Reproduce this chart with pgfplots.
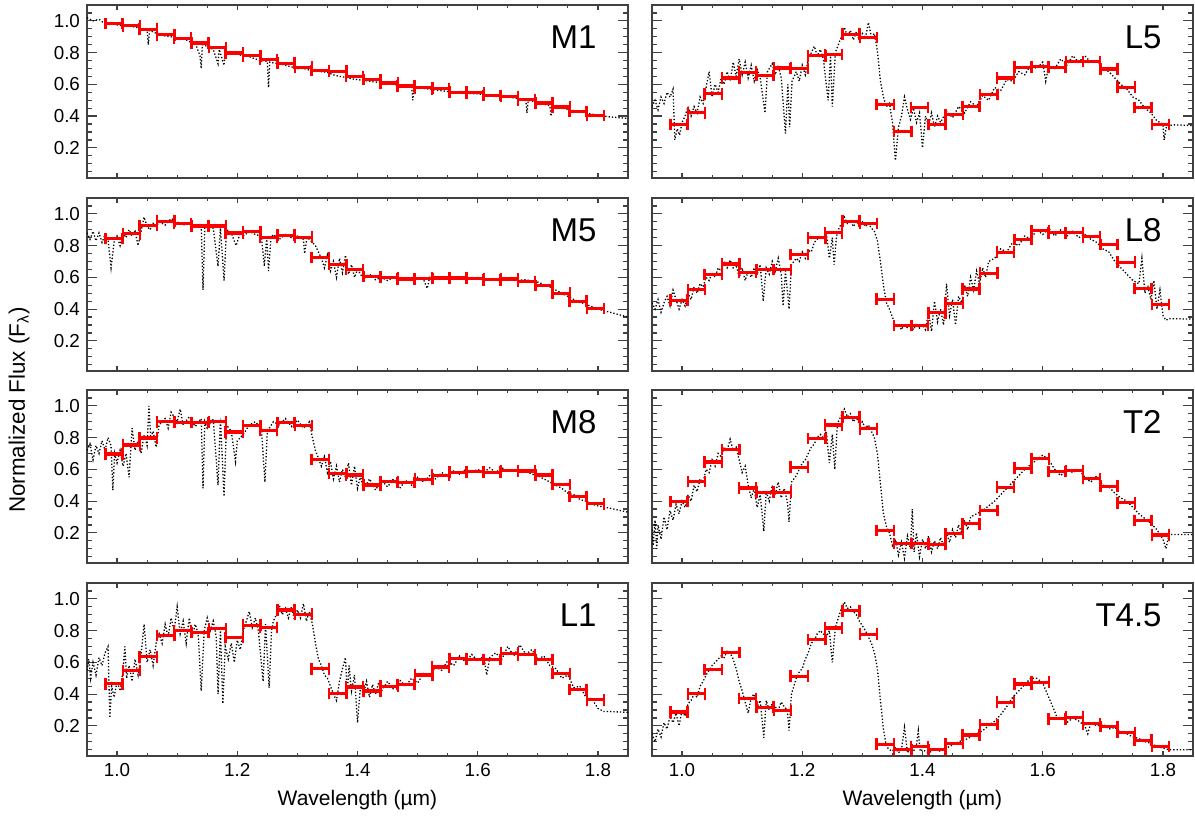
\documentclass[border=0pt]{standalone}
\usepackage{fontspec}
\setmainfont{Liberation Sans}
\usepackage{pgfplots}
\usepackage{pgfplotstable}
\pgfplotsset{compat=1.18}

\pgfplotstableread{
x      M1    M5    M8    L1    L5    L8    T2    T45
0.995  0.983 0.845 0.697 0.465 0.348 0.456 0.397 0.287
1.024  0.969 0.874 0.753 0.548 0.421 0.523 0.523 0.402
1.052  0.948 0.927 0.797 0.635 0.540 0.619 0.646 0.554
1.081  0.912 0.954 0.900 0.768 0.640 0.684 0.724 0.663
1.109  0.891 0.940 0.895 0.800 0.676 0.632 0.483 0.372
1.138  0.860 0.923 0.895 0.787 0.655 0.649 0.456 0.318
1.167  0.833 0.923 0.900 0.813 0.703 0.649 0.456 0.297
1.195  0.797 0.880 0.835 0.757 0.700 0.743 0.613 0.513
1.224  0.780 0.890 0.877 0.834 0.780 0.849 0.795 0.743
1.252  0.756 0.853 0.845 0.820 0.787 0.881 0.879 0.816
1.281  0.733 0.866 0.895 0.930 0.916 0.954 0.929 0.925
1.310  0.708 0.853 0.877 0.903 0.896 0.939 0.856 0.778
1.338  0.687 0.724 0.661 0.560 0.472 0.462 0.215 0.084
1.367  0.683 0.682 0.573 0.403 0.304 0.297 0.134 0.052
1.395  0.649 0.650 0.565 0.445 0.455 0.297 0.134 0.069
1.424  0.630 0.606 0.502 0.420 0.348 0.377 0.128 0.052
1.453  0.609 0.598 0.521 0.450 0.411 0.437 0.195 0.090
1.481  0.590 0.590 0.517 0.460 0.461 0.527 0.257 0.142
1.510  0.578 0.594 0.538 0.520 0.536 0.626 0.341 0.209
1.538  0.572 0.596 0.563 0.571 0.640 0.759 0.487 0.349
1.567  0.551 0.596 0.582 0.623 0.708 0.839 0.607 0.464
1.596  0.547 0.594 0.586 0.619 0.712 0.893 0.667 0.475
1.624  0.530 0.585 0.582 0.619 0.708 0.881 0.586 0.245
1.653  0.524 0.590 0.594 0.658 0.743 0.883 0.592 0.255
1.681  0.503 0.575 0.590 0.648 0.743 0.856 0.542 0.213
1.710  0.482 0.548 0.565 0.617 0.697 0.808 0.494 0.197
1.739  0.457 0.500 0.504 0.530 0.582 0.695 0.389 0.157
1.767  0.430 0.450 0.430 0.430 0.453 0.529 0.278 0.109
1.796  0.405 0.405 0.383 0.364 0.348 0.429 0.186 0.069
}\bins

\pgfplotsset{
  panel/.style={
    scale only axis, width=270.5pt, height=86.5pt,
    xmin=0.95, xmax=1.85, ymin=0.01, ymax=1.1,
    xtick={1.0,1.2,1.4,1.6,1.8},
    xticklabels={1.0,1.2,1.4,1.6,1.8},
    minor xtick={0.95,1.0,1.05,1.1,1.15,1.2,1.25,1.3,1.35,1.4,1.45,1.5,1.55,1.6,1.65,1.7,1.75,1.8},
    ytick={0.2,0.4,0.6,0.8,1.0},
    yticklabels={0.2,0.4,0.6,0.8,1.0},
    minor ytick={0.05,0.1,0.15,0.2,0.25,0.3,0.35,0.4,0.45,0.5,0.55,0.6,0.65,0.7,0.75,0.8,0.85,0.9,0.95,1.0,1.05},
    tick align=inside,
    axis line style={black!75, line width=0.75pt},
    tick style={black!75, line width=0.6pt},
    major tick length=5pt, minor tick length=2.5pt,
    xtick style={/pgfplots/major tick length=2.5pt, /pgfplots/minor tick length=1.3pt},
    tick label style={font=\fontsize{9.4}{10}\selectfont},
    xlabel style={font=\fontsize{10.5}{12}\selectfont},
    clip=true,
  },
  spec/.style={black, densely dotted, line width=0.65pt},
  binned/.style={draw=none, no markers,
    error bars/.cd, x dir=both, x fixed=0.0143,
    error bar style={draw=red, line width=1.6pt},
    error mark options={draw=red, line width=1.3pt, mark size=2.9pt, rotate=90}},
}
\tikzset{lab/.style={anchor=east, font=\fontsize{16.5}{18}\selectfont}}

\begin{document}
\begin{tikzpicture}
\useasboundingbox (0,0) rectangle (597.5pt,410.5pt);

% ---------------- M1
\begin{axis}[panel, at={(43.5pt,321.5pt)}, anchor=south west, xticklabels={}]
\addplot[spec] coordinates {(0.95,1.02)(0.96,1.00)(0.97,1.01)(0.98,0.98)(0.99,0.99)(1.00,0.975)(1.01,0.97)(1.02,0.97)(1.03,0.96)(1.04,0.955)(1.05,0.945)(1.052,0.85)(1.054,0.94)(1.06,0.93)(1.07,0.915)(1.08,0.905)(1.09,0.90)(1.10,0.885)(1.11,0.89)(1.12,0.87)(1.13,0.86)(1.138,0.78)(1.14,0.70)(1.142,0.85)(1.15,0.84)(1.16,0.82)(1.168,0.73)(1.17,0.82)(1.178,0.72)(1.18,0.80)(1.19,0.795)(1.20,0.79)(1.21,0.78)(1.22,0.775)(1.23,0.76)(1.24,0.75)(1.25,0.745)(1.252,0.58)(1.254,0.74)(1.26,0.735)(1.27,0.73)(1.28,0.72)(1.29,0.71)(1.30,0.70)(1.31,0.70)(1.32,0.69)(1.33,0.685)(1.34,0.68)(1.35,0.675)(1.36,0.66)(1.37,0.65)(1.38,0.645)(1.39,0.635)(1.40,0.63)(1.41,0.625)(1.42,0.62)(1.43,0.615)(1.44,0.61)(1.45,0.605)(1.46,0.60)(1.47,0.595)(1.48,0.59)(1.49,0.585)(1.492,0.50)(1.494,0.58)(1.50,0.58)(1.52,0.57)(1.54,0.56)(1.56,0.55)(1.58,0.545)(1.60,0.54)(1.62,0.53)(1.64,0.525)(1.66,0.515)(1.68,0.50)(1.682,0.42)(1.684,0.50)(1.70,0.485)(1.72,0.465)(1.722,0.40)(1.724,0.46)(1.74,0.45)(1.76,0.435)(1.78,0.42)(1.80,0.405)(1.82,0.395)(1.85,0.385)};
\addplot[binned] table[x=x, y=M1] {\bins};
\node[lab] at (rel axis cs:0.955,0.815) {M1};
\end{axis}

% ---------------- M5
\begin{axis}[panel, at={(43.5pt,225pt)}, anchor=south west, xticklabels={}]
\addplot[spec] coordinates {(0.95,0.88)(0.955,0.84)(0.96,0.89)(0.965,0.83)(0.97,0.88)(0.975,0.82)(0.98,0.87)(0.985,0.84)(0.99,0.66)(0.995,0.82)(1.00,0.86)(1.005,0.80)(1.01,0.88)(1.015,0.85)(1.02,0.90)(1.025,0.86)(1.03,0.89)(1.035,0.80)(1.04,0.89)(1.045,0.98)(1.05,0.92)(1.055,0.90)(1.06,0.94)(1.065,0.92)(1.07,0.95)(1.08,0.93)(1.09,0.97)(1.10,0.95)(1.11,0.93)(1.12,0.94)(1.13,0.92)(1.14,0.93)(1.143,0.52)(1.146,0.92)(1.16,0.91)(1.168,0.67)(1.172,0.91)(1.178,0.58)(1.182,0.90)(1.19,0.88)(1.198,0.80)(1.205,0.88)(1.21,0.86)(1.22,0.89)(1.23,0.87)(1.24,0.86)(1.245,0.67)(1.249,0.85)(1.252,0.64)(1.256,0.85)(1.26,0.87)(1.27,0.84)(1.28,0.87)(1.29,0.85)(1.30,0.86)(1.31,0.84)(1.312,0.75)(1.316,0.85)(1.32,0.84)(1.33,0.80)(1.34,0.72)(1.345,0.66)(1.35,0.74)(1.355,0.64)(1.36,0.70)(1.365,0.60)(1.37,0.72)(1.375,0.63)(1.38,0.74)(1.385,0.62)(1.39,0.68)(1.395,0.60)(1.40,0.65)(1.41,0.59)(1.42,0.62)(1.43,0.585)(1.44,0.60)(1.45,0.58)(1.46,0.60)(1.47,0.585)(1.48,0.59)(1.50,0.60)(1.51,0.585)(1.516,0.53)(1.52,0.60)(1.54,0.595)(1.56,0.60)(1.58,0.59)(1.60,0.60)(1.62,0.585)(1.64,0.59)(1.66,0.58)(1.68,0.585)(1.70,0.57)(1.72,0.54)(1.74,0.50)(1.76,0.46)(1.78,0.43)(1.80,0.40)(1.82,0.38)(1.85,0.35)};
\addplot[binned] table[x=x, y=M5] {\bins};
\node[lab] at (rel axis cs:0.955,0.815) {M5};
\end{axis}

% ---------------- M8
\begin{axis}[panel, at={(43.5pt,129pt)}, anchor=south west, xticklabels={}]
\addplot[spec] coordinates {(0.95,0.72)(0.955,0.76)(0.96,0.66)(0.965,0.75)(0.97,0.70)(0.975,0.78)(0.98,0.72)(0.985,0.80)(0.99,0.75)(0.993,0.47)(0.996,0.70)(1.00,0.64)(1.005,0.72)(1.01,0.62)(1.015,0.70)(1.02,0.55)(1.025,0.86)(1.03,0.72)(1.035,0.78)(1.04,0.70)(1.045,0.82)(1.05,0.75)(1.053,1.00)(1.056,0.80)(1.06,0.84)(1.065,0.74)(1.07,0.88)(1.08,0.92)(1.085,0.86)(1.09,0.96)(1.10,0.90)(1.105,0.98)(1.11,0.88)(1.12,0.93)(1.13,0.87)(1.14,0.92)(1.143,0.48)(1.146,0.90)(1.15,0.86)(1.16,0.92)(1.168,0.50)(1.172,0.92)(1.178,0.43)(1.182,0.88)(1.19,0.84)(1.197,0.65)(1.20,0.78)(1.21,0.82)(1.22,0.88)(1.23,0.90)(1.24,0.86)(1.246,0.52)(1.25,0.84)(1.26,0.90)(1.27,0.88)(1.28,0.92)(1.29,0.87)(1.30,0.91)(1.31,0.86)(1.32,0.90)(1.325,0.80)(1.33,0.72)(1.34,0.62)(1.345,0.68)(1.35,0.58)(1.355,0.65)(1.36,0.54)(1.365,0.62)(1.37,0.52)(1.375,0.60)(1.38,0.55)(1.385,0.64)(1.39,0.50)(1.395,0.62)(1.40,0.48)(1.405,0.56)(1.41,0.47)(1.42,0.54)(1.43,0.47)(1.44,0.53)(1.45,0.49)(1.46,0.54)(1.47,0.48)(1.48,0.53)(1.49,0.50)(1.50,0.55)(1.51,0.52)(1.52,0.56)(1.53,0.54)(1.54,0.58)(1.55,0.56)(1.56,0.59)(1.57,0.57)(1.58,0.60)(1.59,0.58)(1.60,0.60)(1.61,0.58)(1.62,0.61)(1.63,0.58)(1.64,0.61)(1.65,0.59)(1.66,0.60)(1.67,0.58)(1.68,0.59)(1.69,0.57)(1.70,0.56)(1.71,0.54)(1.72,0.52)(1.73,0.50)(1.74,0.48)(1.75,0.45)(1.76,0.44)(1.77,0.41)(1.78,0.40)(1.79,0.38)(1.80,0.37)(1.82,0.355)(1.85,0.33)};
\addplot[binned] table[x=x, y=M8] {\bins};
\node[lab] at (rel axis cs:0.955,0.815) {M8};
\end{axis}

% ---------------- L1
\begin{axis}[panel, at={(43.5pt,32.5pt)}, anchor=south west, xlabel={Wavelength (µm)}]
\addplot[spec] coordinates {(0.95,0.55)(0.953,0.62)(0.956,0.50)(0.96,0.60)(0.965,0.52)(0.97,0.63)(0.975,0.58)(0.98,0.66)(0.985,0.70)(0.988,0.25)(0.991,0.45)(0.995,0.38)(1.00,0.48)(1.005,0.42)(1.01,0.55)(1.013,0.70)(1.016,0.50)(1.02,0.58)(1.025,0.48)(1.03,0.62)(1.035,0.52)(1.04,0.65)(1.045,0.84)(1.05,0.60)(1.055,0.68)(1.06,0.58)(1.065,0.72)(1.07,0.78)(1.075,0.72)(1.08,0.84)(1.085,0.76)(1.09,0.88)(1.095,0.80)(1.10,0.95)(1.105,0.78)(1.11,0.86)(1.115,0.72)(1.12,0.88)(1.125,0.76)(1.13,0.84)(1.135,0.78)(1.14,0.42)(1.145,0.80)(1.15,0.88)(1.155,0.80)(1.16,0.86)(1.165,0.76)(1.168,0.40)(1.172,0.80)(1.176,0.34)(1.18,0.70)(1.185,0.62)(1.19,0.72)(1.195,0.60)(1.20,0.74)(1.205,0.68)(1.21,0.80)(1.215,0.86)(1.22,0.92)(1.225,0.82)(1.23,0.88)(1.235,0.80)(1.243,0.48)(1.247,0.84)(1.253,0.44)(1.257,0.80)(1.26,0.86)(1.265,0.90)(1.27,0.96)(1.275,0.90)(1.28,0.94)(1.285,0.88)(1.29,0.95)(1.295,0.87)(1.30,0.93)(1.305,0.88)(1.31,0.97)(1.315,0.86)(1.32,0.92)(1.325,0.84)(1.33,0.72)(1.335,0.62)(1.34,0.58)(1.345,0.52)(1.35,0.50)(1.355,0.45)(1.36,0.40)(1.365,0.36)(1.37,0.48)(1.375,0.56)(1.38,0.63)(1.383,0.40)(1.386,0.58)(1.39,0.42)(1.395,0.52)(1.40,0.22)(1.405,0.45)(1.41,0.40)(1.415,0.48)(1.42,0.38)(1.425,0.46)(1.43,0.40)(1.435,0.47)(1.44,0.42)(1.45,0.48)(1.46,0.43)(1.47,0.49)(1.48,0.45)(1.49,0.50)(1.50,0.47)(1.51,0.53)(1.52,0.52)(1.53,0.57)(1.54,0.55)(1.55,0.61)(1.56,0.58)(1.57,0.64)(1.58,0.60)(1.59,0.65)(1.60,0.61)(1.61,0.64)(1.615,0.52)(1.62,0.63)(1.63,0.66)(1.64,0.62)(1.65,0.70)(1.66,0.64)(1.67,0.71)(1.68,0.65)(1.69,0.68)(1.70,0.62)(1.71,0.64)(1.72,0.58)(1.73,0.56)(1.74,0.50)(1.75,0.52)(1.76,0.44)(1.77,0.45)(1.78,0.38)(1.79,0.37)(1.80,0.31)(1.81,0.29)(1.82,0.29)(1.85,0.285)};
\addplot[binned] table[x=x, y=L1] {\bins};
\node[lab] at (rel axis cs:0.955,0.815) {L1};
\end{axis}

% ---------------- L5
\begin{axis}[panel, at={(326pt,321.5pt)}, anchor=south west, xticklabels={}, yticklabels={}]
\addplot[spec] coordinates {(0.95,0.46)(0.955,0.50)(0.96,0.44)(0.965,0.52)(0.97,0.48)(0.975,0.55)(0.98,0.52)(0.985,0.57)(0.988,0.25)(0.992,0.32)(0.996,0.28)(1.00,0.36)(1.005,0.40)(1.01,0.46)(1.015,0.40)(1.02,0.46)(1.025,0.42)(1.03,0.52)(1.035,0.48)(1.04,0.58)(1.045,0.68)(1.05,0.52)(1.055,0.60)(1.06,0.55)(1.065,0.64)(1.07,0.60)(1.075,0.68)(1.08,0.62)(1.085,0.74)(1.09,0.65)(1.095,0.76)(1.10,0.66)(1.105,0.74)(1.11,0.64)(1.115,0.72)(1.12,0.62)(1.125,0.70)(1.13,0.64)(1.138,0.42)(1.142,0.68)(1.15,0.73)(1.155,0.66)(1.16,0.72)(1.165,0.64)(1.172,0.29)(1.176,0.60)(1.179,0.33)(1.183,0.62)(1.19,0.68)(1.195,0.62)(1.20,0.72)(1.205,0.66)(1.21,0.76)(1.215,0.80)(1.22,0.84)(1.225,0.78)(1.23,0.82)(1.235,0.76)(1.243,0.50)(1.247,0.78)(1.25,0.46)(1.255,0.80)(1.26,0.85)(1.265,0.90)(1.27,0.96)(1.275,0.90)(1.28,0.94)(1.285,0.88)(1.29,0.93)(1.295,0.88)(1.30,0.92)(1.305,0.89)(1.31,0.99)(1.315,0.90)(1.32,0.92)(1.325,0.81)(1.33,0.62)(1.335,0.52)(1.34,0.46)(1.345,0.48)(1.35,0.36)(1.355,0.12)(1.36,0.33)(1.365,0.40)(1.37,0.52)(1.375,0.44)(1.38,0.38)(1.385,0.45)(1.39,0.36)(1.395,0.42)(1.40,0.20)(1.405,0.40)(1.41,0.34)(1.415,0.42)(1.42,0.33)(1.425,0.40)(1.43,0.36)(1.44,0.43)(1.45,0.39)(1.46,0.46)(1.47,0.42)(1.48,0.49)(1.49,0.46)(1.50,0.53)(1.51,0.50)(1.52,0.58)(1.53,0.56)(1.54,0.63)(1.55,0.62)(1.56,0.68)(1.57,0.66)(1.58,0.72)(1.59,0.70)(1.60,0.74)(1.605,0.62)(1.61,0.72)(1.62,0.70)(1.63,0.76)(1.64,0.72)(1.65,0.78)(1.66,0.74)(1.67,0.78)(1.68,0.74)(1.69,0.75)(1.70,0.70)(1.71,0.68)(1.72,0.64)(1.73,0.60)(1.74,0.57)(1.75,0.52)(1.76,0.50)(1.77,0.45)(1.78,0.42)(1.79,0.37)(1.80,0.35)(1.802,0.25)(1.806,0.34)(1.82,0.345)(1.85,0.34)};
\addplot[binned] table[x=x, y=L5] {\bins};
\node[lab] at (rel axis cs:0.955,0.815) {L5};
\end{axis}

% ---------------- L8
\begin{axis}[panel, at={(326pt,225pt)}, anchor=south west, xticklabels={}, yticklabels={}]
\addplot[spec] coordinates {(0.95,0.44)(0.955,0.40)(0.96,0.46)(0.965,0.38)(0.97,0.44)(0.975,0.48)(0.98,0.42)(0.985,0.52)(0.99,0.46)(0.995,0.40)(1.00,0.46)(1.005,0.42)(1.01,0.50)(1.015,0.46)(1.02,0.54)(1.025,0.50)(1.03,0.56)(1.035,0.54)(1.04,0.60)(1.045,0.58)(1.05,0.63)(1.055,0.60)(1.06,0.66)(1.065,0.64)(1.07,0.70)(1.075,0.66)(1.08,0.71)(1.085,0.66)(1.09,0.68)(1.095,0.60)(1.10,0.66)(1.105,0.58)(1.11,0.64)(1.115,0.60)(1.12,0.66)(1.125,0.62)(1.13,0.68)(1.135,0.45)(1.14,0.66)(1.145,0.62)(1.15,0.70)(1.155,0.64)(1.16,0.72)(1.165,0.62)(1.168,0.42)(1.172,0.64)(1.178,0.40)(1.182,0.68)(1.19,0.72)(1.195,0.70)(1.20,0.76)(1.205,0.72)(1.21,0.77)(1.215,0.76)(1.22,0.82)(1.225,0.84)(1.23,0.86)(1.235,0.84)(1.24,0.88)(1.245,0.72)(1.25,0.85)(1.253,0.68)(1.257,0.86)(1.26,0.90)(1.265,0.94)(1.27,0.98)(1.275,0.94)(1.28,0.96)(1.285,0.92)(1.29,0.95)(1.295,0.93)(1.30,0.95)(1.305,0.92)(1.31,0.94)(1.315,0.91)(1.32,0.89)(1.325,0.83)(1.33,0.70)(1.335,0.55)(1.34,0.44)(1.345,0.40)(1.35,0.35)(1.355,0.29)(1.36,0.30)(1.365,0.27)(1.37,0.31)(1.375,0.28)(1.38,0.30)(1.385,0.27)(1.39,0.31)(1.395,0.28)(1.40,0.30)(1.405,0.27)(1.41,0.38)(1.415,0.26)(1.42,0.45)(1.425,0.32)(1.43,0.40)(1.435,0.30)(1.44,0.56)(1.445,0.36)(1.45,0.46)(1.455,0.30)(1.46,0.48)(1.465,0.44)(1.47,0.55)(1.475,0.48)(1.48,0.60)(1.485,0.52)(1.49,0.64)(1.495,0.56)(1.50,0.66)(1.505,0.60)(1.51,0.70)(1.52,0.72)(1.53,0.78)(1.54,0.76)(1.55,0.82)(1.56,0.80)(1.57,0.86)(1.58,0.84)(1.59,0.90)(1.60,0.87)(1.61,0.91)(1.62,0.86)(1.63,0.90)(1.64,0.86)(1.65,0.89)(1.66,0.85)(1.67,0.87)(1.68,0.84)(1.69,0.82)(1.70,0.78)(1.71,0.76)(1.72,0.70)(1.73,0.66)(1.74,0.62)(1.75,0.58)(1.76,0.56)(1.765,0.72)(1.77,0.50)(1.775,0.54)(1.78,0.46)(1.785,0.58)(1.79,0.40)(1.795,0.52)(1.80,0.36)(1.805,0.33)(1.81,0.34)(1.85,0.337)};
\addplot[binned] table[x=x, y=L8] {\bins};
\node[lab] at (rel axis cs:0.955,0.815) {L8};
\end{axis}

% ---------------- T2
\begin{axis}[panel, at={(326pt,129pt)}, anchor=south west, xticklabels={}, yticklabels={}]
\addplot[spec] coordinates {(0.95,0.22)(0.952,0.12)(0.955,0.28)(0.958,0.10)(0.96,0.25)(0.965,0.16)(0.97,0.30)(0.975,0.22)(0.98,0.34)(0.985,0.28)(0.99,0.38)(0.995,0.32)(1.00,0.40)(1.005,0.36)(1.01,0.44)(1.015,0.40)(1.02,0.50)(1.025,0.46)(1.03,0.54)(1.035,0.52)(1.04,0.60)(1.045,0.58)(1.05,0.66)(1.055,0.62)(1.06,0.70)(1.065,0.68)(1.07,0.74)(1.075,0.72)(1.08,0.79)(1.085,0.72)(1.09,0.74)(1.095,0.66)(1.10,0.58)(1.105,0.62)(1.11,0.50)(1.115,0.42)(1.12,0.48)(1.125,0.36)(1.13,0.44)(1.136,0.21)(1.14,0.46)(1.145,0.40)(1.15,0.50)(1.155,0.44)(1.16,0.52)(1.165,0.42)(1.17,0.48)(1.175,0.40)(1.178,0.27)(1.182,0.52)(1.19,0.56)(1.195,0.60)(1.20,0.64)(1.205,0.66)(1.21,0.70)(1.215,0.74)(1.22,0.76)(1.225,0.80)(1.23,0.82)(1.235,0.80)(1.24,0.84)(1.245,0.64)(1.25,0.82)(1.254,0.60)(1.258,0.86)(1.26,0.90)(1.265,0.94)(1.27,0.98)(1.275,0.93)(1.28,0.95)(1.285,0.90)(1.29,0.93)(1.295,0.88)(1.30,0.90)(1.305,0.86)(1.31,0.88)(1.315,0.84)(1.32,0.80)(1.325,0.70)(1.33,0.51)(1.335,0.32)(1.34,0.24)(1.345,0.20)(1.35,0.12)(1.355,0.16)(1.36,0.06)(1.365,0.14)(1.37,0.04)(1.375,0.18)(1.38,0.10)(1.383,0.35)(1.386,0.08)(1.39,0.20)(1.395,0.05)(1.40,0.16)(1.405,0.10)(1.41,0.18)(1.415,0.08)(1.42,0.15)(1.425,0.10)(1.43,0.17)(1.435,0.12)(1.44,0.20)(1.445,0.14)(1.45,0.22)(1.455,0.17)(1.46,0.25)(1.465,0.20)(1.47,0.28)(1.475,0.22)(1.48,0.30)(1.49,0.32)(1.50,0.34)(1.51,0.37)(1.52,0.40)(1.53,0.44)(1.54,0.48)(1.55,0.52)(1.56,0.56)(1.57,0.60)(1.58,0.63)(1.59,0.66)(1.60,0.69)(1.61,0.66)(1.62,0.60)(1.63,0.56)(1.64,0.60)(1.65,0.58)(1.66,0.60)(1.67,0.55)(1.68,0.52)(1.69,0.56)(1.70,0.50)(1.71,0.49)(1.72,0.45)(1.73,0.42)(1.74,0.40)(1.75,0.36)(1.76,0.32)(1.77,0.29)(1.78,0.26)(1.79,0.22)(1.80,0.16)(1.805,0.10)(1.81,0.19)(1.85,0.19)};
\addplot[binned] table[x=x, y=T2] {\bins};
\node[lab] at (rel axis cs:0.955,0.815) {T2};
\end{axis}

% ---------------- T4.5
\begin{axis}[panel, at={(326pt,32.5pt)}, anchor=south west, yticklabels={}, xlabel={Wavelength (µm)}]
\addplot[spec] coordinates {(0.95,0.15)(0.955,0.10)(0.96,0.18)(0.965,0.13)(0.97,0.22)(0.975,0.18)(0.98,0.26)(0.985,0.22)(0.99,0.28)(0.995,0.20)(1.00,0.30)(1.005,0.26)(1.01,0.34)(1.015,0.36)(1.02,0.40)(1.025,0.38)(1.03,0.45)(1.035,0.48)(1.04,0.52)(1.045,0.55)(1.05,0.58)(1.055,0.60)(1.06,0.62)(1.065,0.64)(1.07,0.63)(1.075,0.67)(1.08,0.66)(1.085,0.62)(1.09,0.56)(1.095,0.48)(1.10,0.42)(1.105,0.35)(1.11,0.28)(1.115,0.38)(1.12,0.40)(1.125,0.32)(1.13,0.36)(1.136,0.125)(1.14,0.36)(1.145,0.30)(1.15,0.34)(1.16,0.30)(1.165,0.35)(1.17,0.32)(1.175,0.30)(1.178,0.17)(1.182,0.40)(1.19,0.50)(1.195,0.54)(1.20,0.56)(1.205,0.62)(1.21,0.66)(1.215,0.72)(1.22,0.74)(1.225,0.78)(1.23,0.80)(1.235,0.78)(1.24,0.76)(1.245,0.80)(1.25,0.60)(1.255,0.82)(1.26,0.88)(1.265,0.94)(1.27,0.98)(1.275,0.94)(1.28,0.95)(1.285,0.92)(1.29,0.90)(1.295,0.86)(1.30,0.83)(1.305,0.80)(1.31,0.76)(1.315,0.72)(1.32,0.66)(1.325,0.56)(1.33,0.36)(1.335,0.18)(1.34,0.07)(1.345,0.05)(1.35,0.04)(1.355,0.06)(1.36,0.03)(1.365,0.05)(1.37,0.19)(1.375,0.03)(1.38,0.06)(1.385,0.04)(1.39,0.08)(1.393,0.17)(1.396,0.04)(1.40,0.05)(1.41,0.03)(1.42,0.05)(1.43,0.04)(1.44,0.06)(1.45,0.08)(1.46,0.10)(1.47,0.11)(1.48,0.13)(1.49,0.15)(1.50,0.17)(1.51,0.20)(1.52,0.23)(1.53,0.27)(1.54,0.32)(1.55,0.38)(1.56,0.42)(1.57,0.46)(1.58,0.50)(1.59,0.50)(1.60,0.47)(1.61,0.38)(1.62,0.29)(1.625,0.24)(1.63,0.25)(1.64,0.22)(1.65,0.25)(1.66,0.23)(1.67,0.20)(1.675,0.15)(1.68,0.22)(1.69,0.20)(1.70,0.21)(1.71,0.18)(1.72,0.19)(1.73,0.16)(1.74,0.15)(1.75,0.13)(1.76,0.12)(1.77,0.10)(1.78,0.09)(1.79,0.07)(1.80,0.06)(1.81,0.05)(1.85,0.05)};
\addplot[binned] table[x=x, y=T45] {\bins};
\node[lab] at (rel axis cs:0.955,0.815) {T4.5};
\end{axis}

\node[rotate=90, font=\fontsize{11.2}{12}\selectfont] at (9.5pt,205.5pt) {Normalized Flux (F\textsubscript{λ})};
\end{tikzpicture}
\end{document}
